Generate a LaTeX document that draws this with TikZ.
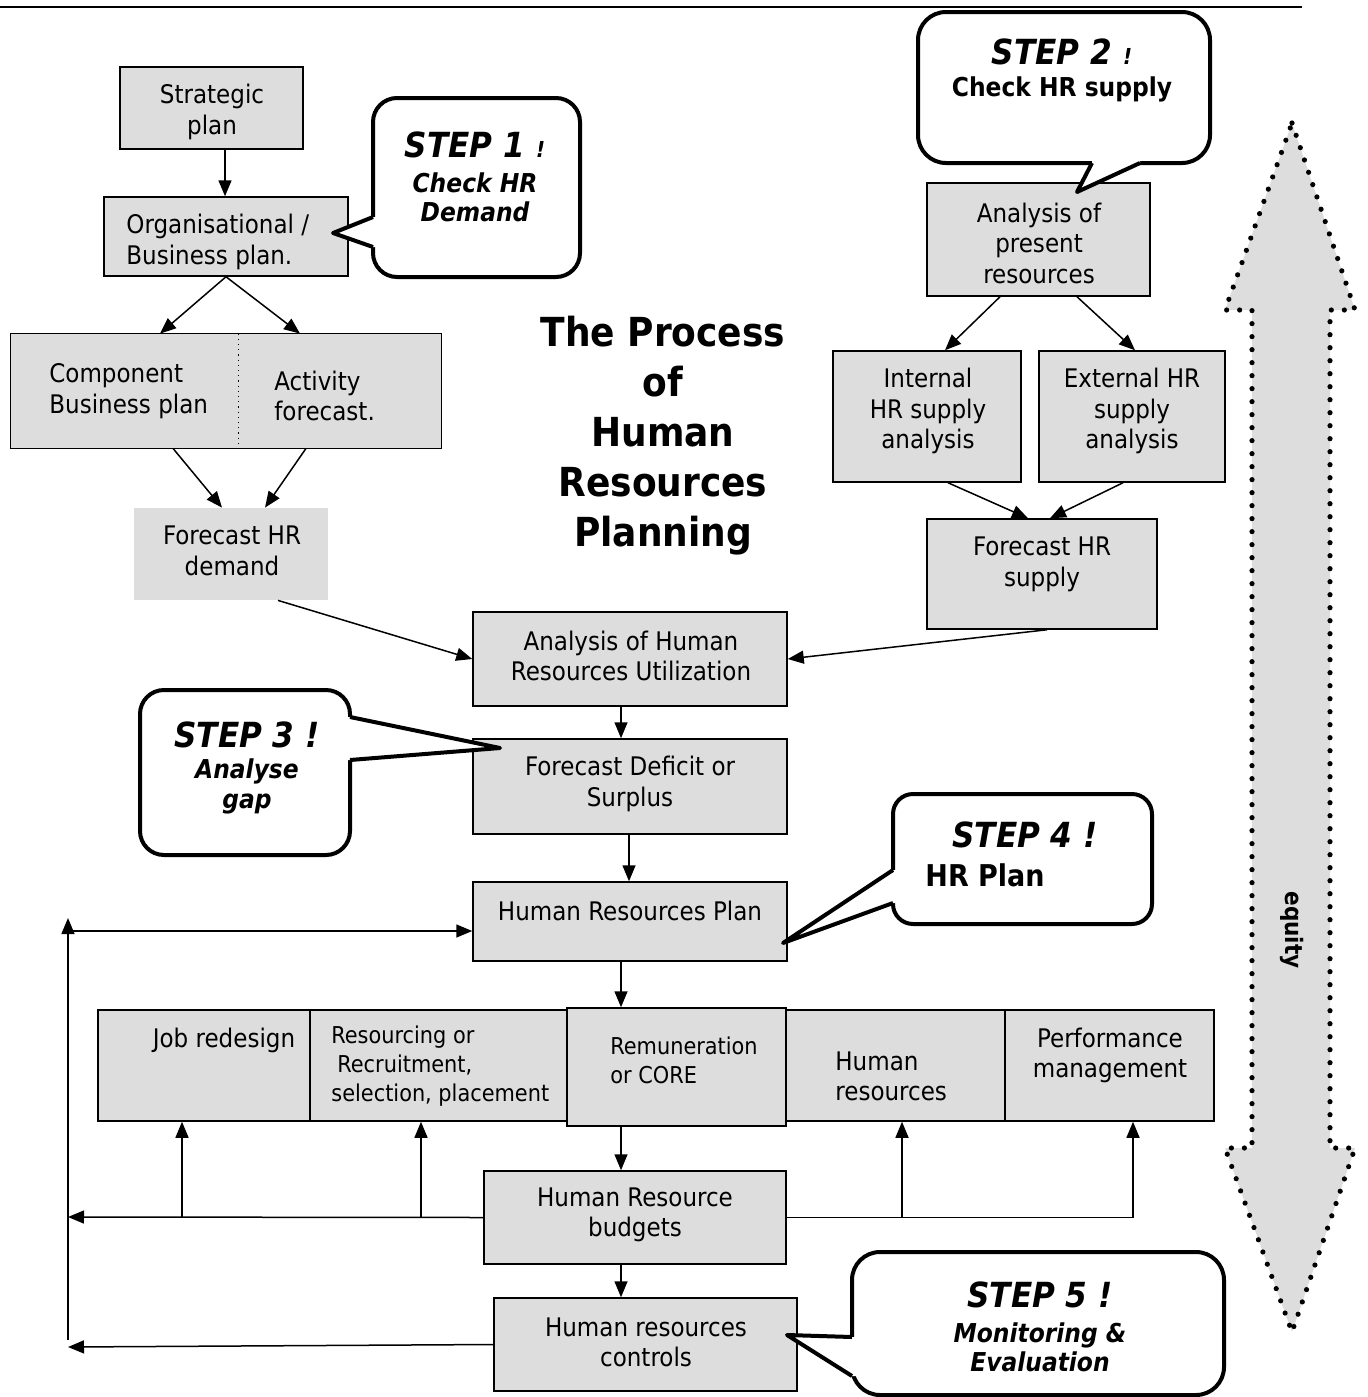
\documentclass[tikz,border=0pt]{standalone}
\usepackage{fontspec}
\setmainfont{DejaVu Sans Condensed}[BoldFont={DejaVu Sans Condensed Bold},ItalicFont={DejaVu Sans Condensed Oblique},BoldItalicFont={DejaVu Sans Condensed Bold Oblique}]
\usetikzlibrary{arrows.meta}
\definecolor{boxgray}{HTML}{DDDDDD}
\newcommand\myboxfont{\fontsize{12.8}{15.25}\selectfont}
\newcommand\mysmallfont{\fontsize{11.6}{14.5}\selectfont}
\newcommand\mystepfont{\fontsize{17.3}{20}\selectfont\bfseries\itshape}
\newcommand\mysubfont{\fontsize{13}{14.75}\selectfont\bfseries\itshape}
\newcommand\myexcl{\fontsize{11}{12}\selectfont !}
\begin{document}
\begin{tikzpicture}[x=0.5pt,y=-0.5pt,
  box/.style={draw=black, fill=boxgray, line width=0.75pt, inner sep=0pt},
  plain/.style={fill=boxgray, inner sep=0pt},
  txt/.style={inner sep=0pt, font=\myboxfont, align=center},
  ltxt/.style={inner sep=0pt, font=\myboxfont, align=left},
  arr/.style={line width=0.75pt, -{Triangle[length=8pt,width=6.5pt]}},
  callout/.style={draw=black, fill=white, line width=2pt},
  pointer/.style={draw=black, line width=2pt, line join=round},
  steptxt/.style={inner sep=0pt, font=\mystepfont, align=center},
  subtxt/.style={inner sep=0pt, font=\mysubfont, align=center}]
\useasboundingbox (0,0) rectangle (1367,1397);

% top rule
\draw[line width=1pt] (0,7) -- (1302,7);

% equity double arrow
\draw[fill=boxgray, draw=black, line width=2.6pt, dash pattern=on 0pt off 6.5pt, line cap=round, line join=round]
  (1292,123) -- (1355,310) -- (1330,310) -- (1330,1148) -- (1355,1148) -- (1292,1332)
  -- (1225,1148) -- (1252,1148) -- (1252,310) -- (1225,310) -- cycle;
\node[rotate=-90, inner sep=0pt, font=\fontsize{12}{14}\selectfont\bfseries] (equity) at (1292,930) {equity};

% ---------- boxes ----------
\node[box, minimum width=91.5pt, minimum height=41pt] (strat) at (211.5,108) {};
\node[box, minimum width=122pt, minimum height=39.5pt] (org) at (226,236.5) {};
\node[plain, minimum width=113.5pt, minimum height=57pt] (comp) at (124.5,391) {};
\node[plain, minimum width=101.5pt, minimum height=57pt] (act) at (339.5,391) {};
\draw[line width=0.75pt] (comp.north west) rectangle (act.south east);
\draw[dotted, line width=0.6pt] (comp.north east) -- (comp.south east);
\node[plain, minimum width=97pt, minimum height=46pt] (fdem) at (231,554) {};

\node[box, minimum width=111.5pt, minimum height=56.5pt] (aps) at (1038.5,239.5) {};
\node[box, minimum width=94pt, minimum height=65.5pt] (ihr) at (927,416.5) {};
\node[box, minimum width=93pt, minimum height=65.5pt] (ehr) at (1132,416.5) {};
\node[box, minimum width=115pt, minimum height=55pt] (fsup) at (1042,574) {};

\node[box, minimum width=157pt, minimum height=47pt] (ahru) at (630,659) {};
\node[box, minimum width=157pt, minimum height=47.5pt] (fdef) at (630,786.5) {};
\node[box, minimum width=157pt, minimum height=39.5pt] (hrp) at (630,921.5) {};

\node[box, minimum width=106pt, minimum height=55.5pt] (job) at (204,1065.5) {};
\node[box, minimum width=128.5pt, minimum height=55.5pt] (res) at (438.5,1065.5) {};
\node[box, minimum width=109.5pt, minimum height=55.5pt] (hum) at (895.5,1065.5) {};
\node[box, minimum width=104.5pt, minimum height=55.5pt] (perf) at (1109.5,1065.5) {};
\node[box, minimum width=109.5pt, minimum height=59pt] (rem) at (676.5,1067) {};

\node[box, minimum width=151pt, minimum height=46.5pt] (bud) at (635,1217.5) {};
\node[box, minimum width=151.5pt, minimum height=46.5pt] (ctrl) at (645.5,1344.5) {};

% ---------- box texts ----------
\node[txt] (strat-t) at (212,112) {Strategic\\plan};
\node[ltxt, anchor=west] (org-t) at (126,242) {Organisational /\\Business plan.};
\node[ltxt, anchor=west] (comp-t) at (49,391) {Component\\Business plan};
\node[ltxt, anchor=west] (act-t) at (274,396) {Activity\\forecast.};
\node[txt] (fdem-t) at (232,551) {Forecast HR\\demand};
\node[txt] (aps-t) at (1039,243) {Analysis of\\present\\resources};
\node[txt] (ihr-t) at (928,411) {Internal\\HR supply\\analysis};
\node[txt] (ehr-t) at (1132,411) {External HR\\supply\\analysis};
\node[txt] (fsup-t) at (1042,564.5) {Forecast HR\\supply};
\node[txt] (ahru-t) at (631,656) {Analysis of Human\\Resources Utilization};
\node[txt] (fdef-t) at (630,784) {Forecast Deficit or\\Surplus};
\node[txt] (hrp-t) at (630,911) {Human Resources Plan};
\node[txt] (job-t) at (224,1040) {Job redesign};
\node[ltxt, anchor=west, font=\mysmallfont] (res-t) at (331,1066) {Resourcing or\\\hspace{3pt}Recruitment,\\selection, placement};
\node[ltxt, anchor=west, font=\mysmallfont] (rem-t) at (610,1060.5) {Remuneration\\or CORE};
\node[ltxt, anchor=west] (hum-t) at (835,1076.5) {Human\\resources};
\node[txt] (perf-t) at (1110,1055.5) {Performance\\management};
\node[txt] (bud-t) at (635,1215) {Human Resource\\budgets};
\node[txt] (ctrl-t) at (646,1342.5) {Human resources\\controls};

% title
\node[inner sep=0pt, align=center, font=\fontsize{20}{25}\selectfont\bfseries] (title) at (663,435.5)
  {The Process\\of\\Human\\Resources\\Planning};

% ---------- connectors ----------
\draw[arr] ([xshift=6.75pt]strat.south) -- ([xshift=-0.5pt]org.north);
\draw[arr] (org.south) -- ([xshift=17.75pt]comp.north);
\draw[arr] (org.south) -- ([xshift=-19.75pt]act.north);
\draw[arr] ([xshift=24.25pt]comp.south) -- ([xshift=-4.5pt]fdem.north);
\draw[arr] ([xshift=-16.75pt]act.south) -- ([xshift=17pt]fdem.north);
\draw[arr] ([xshift=23.5pt]fdem.south) -- (ahru.west);

\draw[arr] ([xshift=-19.25pt]aps.south) -- ([xshift=9pt]ihr.north);
\draw[arr] ([xshift=19.25pt]aps.south) -- ([xshift=1.5pt]ehr.north);
\draw[arr] ([xshift=10.5pt]ihr.south) -- ([xshift=-7pt]fsup.north);
\draw[arr] ([xshift=-4.5pt]ehr.south) -- ([xshift=4pt]fsup.north);
\draw[arr] ([xshift=2.5pt]fsup.south) -- (ahru.east);

\draw[arr] ([xshift=-4.5pt]ahru.south) -- ([xshift=-4.5pt]fdef.north);
\draw[arr] ([xshift=-0.5pt]fdef.south) -- ([xshift=-0.5pt]hrp.north);
\draw[arr] ([xshift=-4.5pt]hrp.south) -- ([xshift=-27.75pt]rem.north);
\draw[arr] ([xshift=-27.75pt]rem.south) -- ([xshift=-7pt]bud.north);
\draw[arr] ([xshift=-7pt]bud.south) -- ([xshift=-12.25pt]ctrl.north);

% feedback loop
\coordinate (fbtop) at (68,918);
\coordinate (fbbot) at (68,1340);
\coordinate (fbh) at (68,931);
\coordinate (bl) at (68,1217);
\coordinate (cl) at (68,1347);
\draw[arr] (fbbot) -- (fbtop);
\draw[arr] (fbh) -- (fbh -| hrp.west);
\draw[arr] (bud.west) -- (bl);
\draw[arr] (ctrl.west) -- (cl);
\draw[arr] ([xshift=-11pt]job.south |- bud.west) -- ([xshift=-11pt]job.south);
\draw[arr] ([xshift=-8.75pt]res.south |- bud.west) -- ([xshift=-8.75pt]res.south);
\draw[arr] ([xshift=3.25pt]hum.south |- bud.east) -- ([xshift=3.25pt]hum.south);
\draw[arr] (bud.east) -| ([xshift=11.75pt]perf.south);

% ---------- callouts ----------
% step 1
\draw[callout, rounded corners=12pt] (373,98) rectangle (580,277);
\fill[white] (381,217) -- (373,217) -- (333,233) -- (373,247) -- (381,247) -- cycle;
\draw[pointer] (373,217) -- (333,233) -- (373,247);
\node[steptxt] (s1a) at (475,145) {STEP 1 \myexcl};
\node[subtxt] (s1b) at (475,197.5) {Check HR\\Demand};

% step 2
\draw[callout, rounded corners=14pt] (918,12) rectangle (1210,163);
\fill[white] (1092,155) -- (1092,163) -- (1077,192) -- (1140,163) -- (1140,155) -- cycle;
\draw[pointer] (1092,163) -- (1077,192) -- (1140,163);
\node[steptxt] (s2a) at (1062,52) {STEP 2 \myexcl};
\node[inner sep=0pt, font=\fontsize{13}{14}\selectfont\bfseries] (s2b) at (1062,89) {Check HR supply};

% step 3
\draw[callout, rounded corners=12pt] (140,690) rectangle (350,855);
\fill[white] (342,717) -- (350,717) -- (500,748) -- (350,760) -- (342,760) -- cycle;
\draw[pointer] (350,717) -- (500,748) -- (350,760);
\node[steptxt] (s3a) at (247,735) {STEP 3 !};
\node[subtxt] (s3b) at (247,786.5) {Analyse\\gap};

% step 4
\draw[callout, rounded corners=10pt] (893,794) rectangle (1152,924);
\fill[white] (901,870) -- (893,870) -- (783,943) -- (893,903) -- (901,903) -- cycle;
\draw[pointer] (893,870) -- (783,943) -- (893,903);
\node[steptxt] (s4a) at (1025,835) {STEP 4 !};
\node[inner sep=0pt, font=\fontsize{15}{18}\selectfont\bfseries, anchor=west] (s4b) at (925,875) {HR Plan};

% step 5
\draw[callout, rounded corners=14pt] (852,1252) rectangle (1224,1395);
\fill[white] (860,1337) -- (852,1337) -- (787,1335) -- (852,1376) -- (860,1376) -- cycle;
\draw[pointer] (852,1337) -- (787,1335) -- (852,1376);
\node[steptxt] (s5a) at (1040,1295) {STEP 5 !};
\node[subtxt] (s5b) at (1040,1347.5) {Monitoring \&\\Evaluation};
\end{tikzpicture}
\end{document}
